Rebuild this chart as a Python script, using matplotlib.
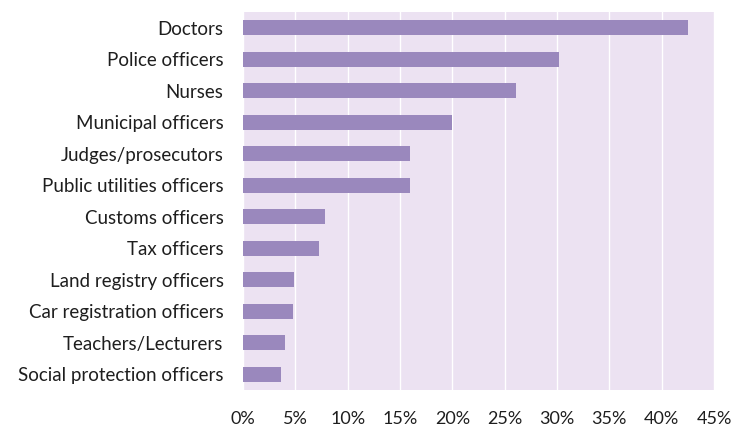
import matplotlib.pyplot as plt
from matplotlib.ticker import FuncFormatter

# share of respondents naming each occupation
occupations = [
    "Doctors", "Police officers", "Nurses", "Municipal officers",
    "Judges/prosecutors", "Public utilities officers", "Customs officers",
    "Tax officers", "Land registry officers", "Car registration officers",
    "Teachers/Lecturers", "Social protection officers",
]
shares = [42.5, 30.2, 26.1, 20.0, 16.0, 16.0, 7.8, 7.3, 4.9, 4.75, 4.0, 3.6]
xticks = [0, 5, 10, 15, 20, 25, 30, 35, 40, 45]

plt.rcParams['font.family'] = ['Lato', 'DejaVu Sans']

fig = plt.figure(figsize=(7.37, 4.34), dpi=100)
ax = fig.add_axes([243 / 737, 1 - 390 / 434, (714 - 243) / 737, (390 - 12) / 434])

ax.set_facecolor("#ece2f2")
ypos = range(len(occupations))
ax.barh(ypos, shares, height=0.47, color="#9a88bd", zorder=3)

ax.set_xlim(0, 45)
ax.set_ylim(len(occupations) - 0.5, -0.5)
ax.set_xticks(xticks)
ax.xaxis.set_major_formatter(FuncFormatter(lambda v, p: f"{v:.0f}%"))
ax.set_yticks(list(ypos))
ax.set_yticklabels(occupations)
ax.grid(axis="x", color="white", linewidth=1.0, zorder=1)

for s in ax.spines.values():
    s.set_visible(False)
ax.tick_params(axis="y", length=0, labelsize=13.5, colors="#1e1e1e", pad=14)
ax.tick_params(axis="x", length=0, labelsize=13, colors="#1e1e1e", pad=15)

fig.savefig("out.png", dpi=100)
